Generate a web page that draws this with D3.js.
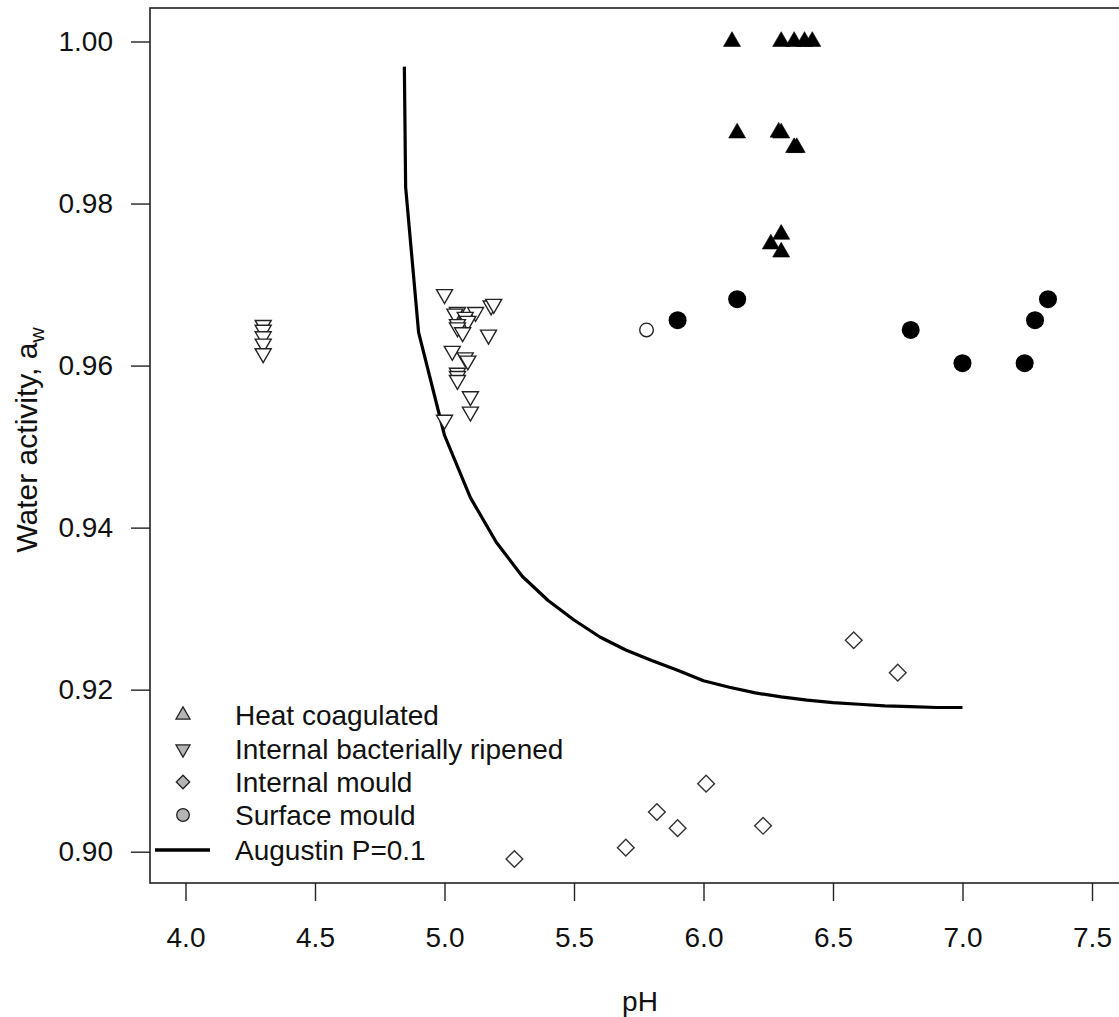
<!DOCTYPE html>
<html>
<head>
<meta charset="utf-8">
<script src="https://cdn.jsdelivr.net/npm/d3@7"></script>
<style>
  html, body { margin: 0; padding: 0; background: #fff; }
  svg { display: block; font-family: "Liberation Sans", Arial, sans-serif; }
</style>
</head>
<body>
<svg id="chart" width="1119" height="1017"></svg>
<script>
// ---------------- data ----------------
const seriesNames = ["Heat coagulated", "Internal bacterially ripened", "Internal mould", "Surface mould"];
const curveName = "Augustin P=0.1";

// Heat coagulated (filled up-triangles)
const heatPH = [6.11, 6.30, 6.35, 6.39, 6.42, 6.13, 6.29, 6.30, 6.35, 6.36, 6.30, 6.26, 6.30];
const heatAw = [1.000, 1.000, 1.000, 1.000, 1.000, 0.9887, 0.9888, 0.9887, 0.9869, 0.9869, 0.9762, 0.9750, 0.9740];

// Internal bacterially ripened (open down-triangles)
const ibrPH = [4.30, 4.30, 4.30, 4.30, 4.30,
  5.00, 5.05, 5.04, 5.12, 5.08, 5.09, 5.18, 5.19, 5.05, 5.05, 5.07, 5.17,
  5.03, 5.08, 5.09, 5.05, 5.05, 5.05, 5.10, 5.10, 5.00];
const ibrAw = [0.9650, 0.9644, 0.9636, 0.9627, 0.9615,
  0.9688, 0.9666, 0.9664, 0.9666, 0.9660, 0.9655, 0.9674, 0.9676, 0.9651, 0.9647, 0.9641, 0.9638,
  0.9618, 0.9610, 0.9606, 0.9591, 0.9587, 0.9582, 0.9562, 0.9543, 0.9533];

// Internal mould (open diamonds)
const imPH = [6.58, 6.75, 6.01, 5.82, 5.90, 6.23, 5.70, 5.27];
const imAw = [0.9261, 0.9221, 0.9084, 0.9049, 0.9029, 0.9032, 0.9005, 0.8991];

// Surface mould (circles; filled = 1, open = 0)
const smPH = [5.78, 5.90, 6.13, 6.80, 7.00, 7.24, 7.28, 7.33];
const smAw = [0.9644, 0.9656, 0.9682, 0.9644, 0.9603, 0.9603, 0.9656, 0.9682];
const smFilled = [0, 1, 1, 1, 1, 1, 1, 1];

// Augustin P=0.1 boundary
const curvePH = [4.845, 4.85, 4.90, 5.00, 5.10, 5.20, 5.30, 5.40, 5.50, 5.60, 5.70, 5.80, 5.90,
  6.00, 6.10, 6.20, 6.30, 6.40, 6.50, 6.60, 6.70, 6.80, 6.90, 7.00];
const curveAw = [0.9969, 0.9820, 0.9641, 0.9514, 0.9437, 0.9382, 0.9340, 0.9310, 0.9286, 0.9265, 0.9249, 0.9236, 0.9224,
  0.9211, 0.9203, 0.9196, 0.9191, 0.9187, 0.9184, 0.9182, 0.9180, 0.9179, 0.9178, 0.9178];

const xTicks = [4.0, 4.5, 5.0, 5.5, 6.0, 6.5, 7.0, 7.5];
const yTicks = [0.90, 0.92, 0.94, 0.96, 0.98, 1.00];

// ---------------- layout ----------------
const svg = d3.select("#chart");
const frame = { left: 150, top: 8, right: 1126, bottom: 883 };

const x = d3.scaleLinear().domain([4.0, 7.5]).range([185.5, 1092]);
const y = d3.scaleLinear().domain([0.90, 1.00]).range([851.7, 41.5]);

const ink = "#111";
const fontSize = 28;

// frame
svg.append("rect")
  .attr("x", frame.left).attr("y", frame.top)
  .attr("width", frame.right - frame.left).attr("height", frame.bottom - frame.top)
  .attr("fill", "none").attr("stroke", "#222").attr("stroke-width", 1.6);

// axes
const xAxis = d3.axisBottom(x).tickValues(xTicks).tickFormat(d3.format(".1f")).tickSize(18).tickPadding(26);
const gx = svg.append("g").attr("transform", `translate(0,${frame.bottom})`).call(xAxis);
gx.select(".domain").remove();
gx.selectAll("line").attr("stroke", "#222").attr("stroke-width", 1.4);
gx.selectAll("text").attr("font-size", fontSize).attr("fill", ink)
  .attr("font-family", "'Liberation Sans', Arial, sans-serif");

const yAxis = d3.axisLeft(y).tickValues(yTicks).tickFormat(d3.format(".2f")).tickSize(19).tickPadding(18);
const gy = svg.append("g").attr("transform", `translate(${frame.left},0)`).call(yAxis);
gy.select(".domain").remove();
gy.selectAll("line").attr("stroke", "#222").attr("stroke-width", 1.4);
gy.selectAll("text").attr("font-size", fontSize).attr("fill", ink)
  .attr("font-family", "'Liberation Sans', Arial, sans-serif");

// axis titles
svg.append("text").attr("x", 640).attr("y", 1011).attr("text-anchor", "middle")
  .attr("font-size", fontSize).attr("fill", ink).text("pH");

const yt = svg.append("text")
  .attr("transform", "translate(37,440) rotate(-90)")
  .attr("text-anchor", "middle").attr("font-size", 30).attr("fill", ink);
yt.append("tspan").text("Water activity, a");
yt.append("tspan").attr("font-size", 21).attr("dy", 7).text("w");

// ---------------- marks ----------------
const plot = svg.append("g");

// curve
const curveData = curvePH.map((p, i) => ({ ph: p, aw: curveAw[i] }));
plot.append("path").datum(curveData)
  .attr("d", d3.line().x(d => x(d.ph)).y(d => y(d.aw)))
  .attr("fill", "none").attr("stroke", "#000").attr("stroke-width", 3.2)
  .attr("stroke-linejoin", "round");

const triSize = Math.sqrt(3) / 4 * 17 * 17;
const triSizeOpen = Math.sqrt(3) / 4 * 16 * 16;
const diaSize = 11.8 * 11.8;

// internal bacterially ripened
const ibr = ibrPH.map((p, i) => ({ ph: p, aw: ibrAw[i] }));
plot.selectAll(".ibr").data(ibr).enter().append("path")
  .attr("class", "ibr")
  .attr("d", d3.symbol().type(d3.symbolTriangle).size(triSizeOpen))
  .attr("transform", d => `translate(${x(d.ph)},${y(d.aw)}) rotate(180)`)
  .attr("fill", "#fff").attr("stroke", "#222").attr("stroke-width", 1.4);

// internal mould
const im = imPH.map((p, i) => ({ ph: p, aw: imAw[i] }));
plot.selectAll(".im").data(im).enter().append("path")
  .attr("class", "im")
  .attr("d", d3.symbol().type(d3.symbolSquare).size(diaSize))
  .attr("transform", d => `translate(${x(d.ph)},${y(d.aw)}) rotate(45)`)
  .attr("fill", "#fff").attr("stroke", "#333").attr("stroke-width", 1.4);

// surface mould
const sm = smPH.map((p, i) => ({ ph: p, aw: smAw[i], filled: smFilled[i] }));
plot.selectAll(".sm").data(sm).enter().append("circle")
  .attr("class", "sm")
  .attr("cx", d => x(d.ph)).attr("cy", d => y(d.aw))
  .attr("r", d => d.filled ? 9 : 6.8)
  .attr("fill", d => d.filled ? "#000" : "#fff")
  .attr("stroke", d => d.filled ? "none" : "#222").attr("stroke-width", 1.4);

// heat coagulated
const heat = heatPH.map((p, i) => ({ ph: p, aw: heatAw[i] }));
plot.selectAll(".heat").data(heat).enter().append("path")
  .attr("class", "heat")
  .attr("d", d3.symbol().type(d3.symbolTriangle).size(triSize))
  .attr("transform", d => `translate(${x(d.ph)},${y(d.aw)})`)
  .attr("fill", "#000").attr("stroke", "#000").attr("stroke-width", 0.6);

// ---------------- legend ----------------
const legend = svg.append("g");
const legRows = [715, 749, 782, 815, 850];
const legSymX = 183;
const legTextX = 235;
const grey = "#b4b4b4";
const legTri = Math.sqrt(3) / 4 * 14 * 14;

legend.append("path").attr("d", d3.symbol().type(d3.symbolTriangle).size(legTri))
  .attr("transform", `translate(${legSymX},${legRows[0]})`)
  .attr("fill", grey).attr("stroke", "#222").attr("stroke-width", 1.3);
legend.append("path").attr("d", d3.symbol().type(d3.symbolTriangle).size(legTri))
  .attr("transform", `translate(${legSymX},${legRows[1]}) rotate(180)`)
  .attr("fill", grey).attr("stroke", "#222").attr("stroke-width", 1.3);
legend.append("path").attr("d", d3.symbol().type(d3.symbolSquare).size(9.5 * 9.5))
  .attr("transform", `translate(${legSymX},${legRows[2]}) rotate(45)`)
  .attr("fill", grey).attr("stroke", "#222").attr("stroke-width", 1.3);
legend.append("circle").attr("cx", legSymX).attr("cy", legRows[3]).attr("r", 6.3)
  .attr("fill", grey).attr("stroke", "#222").attr("stroke-width", 1.3);
legend.append("line").attr("x1", 155).attr("x2", 210).attr("y1", legRows[4]).attr("y2", legRows[4])
  .attr("stroke", "#000").attr("stroke-width", 3.4);

const legLabels = seriesNames.concat([curveName]);
legend.selectAll(".lt").data(legLabels).enter().append("text")
  .attr("class", "lt")
  .attr("x", legTextX).attr("y", (d, i) => legRows[i])
  .attr("dy", "0.36em").attr("font-size", fontSize).attr("fill", ink)
  .text(d => d);
</script>
</body>
</html>
